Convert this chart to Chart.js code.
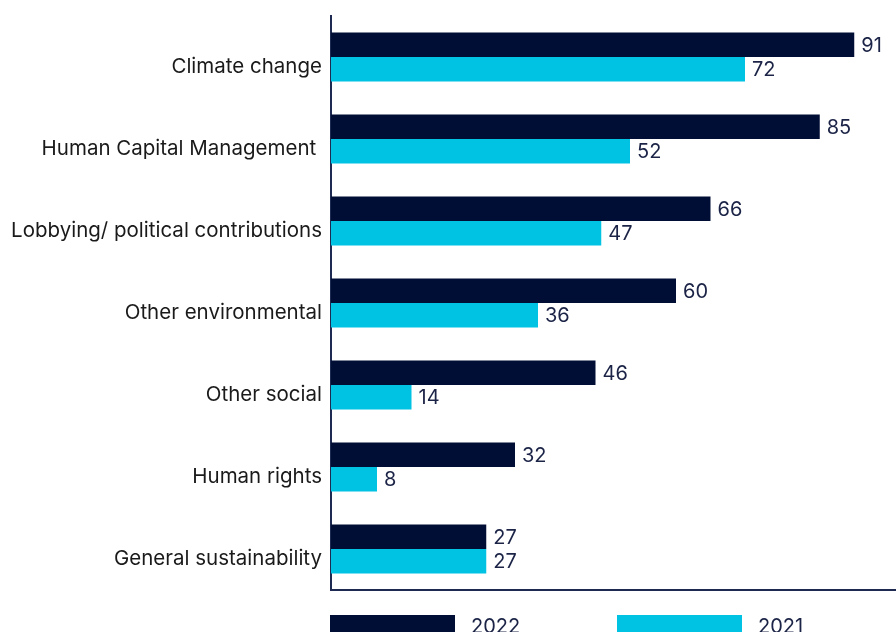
<!DOCTYPE html>
<html>
<head>
<meta charset="utf-8">
<script src="https://cdn.jsdelivr.net/npm/chart.js@4/dist/chart.umd.min.js"></script>
<style>
  body { margin: 0; background: #fff; }
  #frame { width: 896px; height: 632px; overflow: hidden; position: relative; }
  #box { width: 906px; height: 650px; position: relative; }
</style>
</head>
<body>
<div id="frame"><div id="box"><canvas id="chart"></canvas></div></div>
<script>
const categories = [
    "Climate change",
    "Human Capital Management ",
    "Lobbying/ political contributions",
    "Other environmental",
    "Other social",
    "Human rights",
    "General sustainability"
];
const seriesNames = ["2022", "2021"];
const values2022 = [91, 85, 66, 60, 46, 32, 27];
const values2021 = [72, 52, 47, 36, 14, 8, 27];

const DARK = "#000e35";
const CYAN = "#00c2e3";
const AXIS = "#1f2a52";
const FONT = "Inter";

// value labels at the end of each bar
const valueLabels = {
    id: "valueLabels",
    afterDatasetsDraw(chart) {
        const ctx = chart.ctx;
        ctx.save();
        ctx.font = "20px " + FONT;
        ctx.fillStyle = "#1b2346";
        ctx.textAlign = "left";
        ctx.textBaseline = "middle";
        chart.data.datasets.forEach((ds, i) => {
            chart.getDatasetMeta(i).data.forEach((bar, j) => {
                ctx.fillText(ds.data[j], bar.x + 7, bar.y + 1);
            });
        });
        ctx.restore();
    }
};

// legend below the plot, starting at the axis line
const bottomLegend = {
    id: "bottomLegend",
    afterDraw(chart) {
        const ctx = chart.ctx;
        const x0 = chart.chartArea.left - 1;
        const y0 = chart.chartArea.bottom + 25;
        ctx.save();
        ctx.font = "20px " + FONT;
        ctx.textBaseline = "top";
        ctx.textAlign = "left";
        chart.data.datasets.forEach((ds, i) => {
            const x = x0 + i * 287;
            ctx.fillStyle = ds.backgroundColor;
            ctx.fillRect(x, y0, 125, 22);
            ctx.fillStyle = "#1b2346";
            ctx.fillText(ds.label, x + 141, y0 + 2);
        });
        ctx.restore();
    }
};

new Chart(document.getElementById("chart"), {
    type: "bar",
    data: {
        labels: categories,
        datasets: [
            { label: seriesNames[0], data: values2022, backgroundColor: DARK },
            { label: seriesNames[1], data: values2021, backgroundColor: CYAN },
        ],
    },
    options: {
        indexAxis: "y",
        responsive: true,
        maintainAspectRatio: false,
        animation: false,
        categoryPercentage: 0.6,
        barPercentage: 1.0,
        layout: { padding: { top: 16, bottom: 60, left: 0, right: 0 } },
        plugins: {
            legend: { display: false },
            tooltip: { enabled: false },
        },
        scales: {
            x: {
                min: 0,
                max: 100,
                grid: { display: false, drawTicks: false },
                ticks: { display: false },
                border: { display: true, color: AXIS, width: 2 },
            },
            y: {
                grid: { display: false, drawTicks: false },
                border: { display: true, color: AXIS, width: 2 },
                ticks: {
                    color: "#1a1a1a",
                    font: { family: FONT, size: 20.5 },
                    padding: 9,
                    labelOffset: 10,
                },
                afterFit(axis) {
                    axis.width = 331;
                    axis.paddingTop = 0;
                    axis.paddingBottom = 0;
                },
            },
        },
    },
    plugins: [valueLabels, bottomLegend],
});
</script>
</body>
</html>
